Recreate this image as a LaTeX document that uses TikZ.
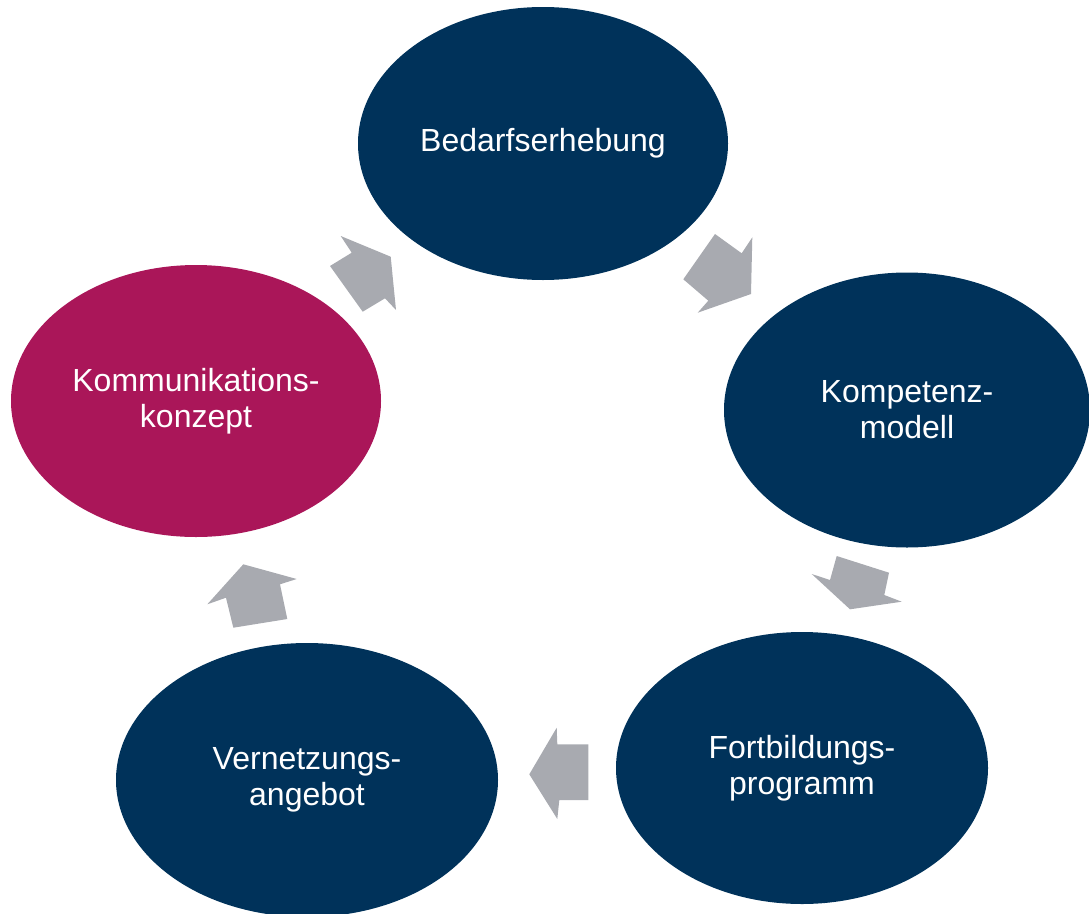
\documentclass[tikz,border=0pt]{standalone}
\usepackage{fontspec}
\setmainfont{Liberation Sans}
\usetikzlibrary{shapes.geometric}
\definecolor{navy}{RGB}{0,50,90}
\definecolor{berry}{RGB}{170,22,89}
\definecolor{arrowgray}{RGB}{168,170,176}
\begin{document}
\begin{tikzpicture}[x=1pt,y=-1pt,
		blob/.style={ellipse, fill=navy, text=white, inner sep=0pt, align=center,
			font=\fontsize{32}{36}\selectfont},
		blockarrow/.style={fill=arrowgray}]
			\useasboundingbox (0,0) rectangle (1089,913);
			\node[blob, minimum width=370pt, minimum height=273pt] (bedarf) at (543,143.5) {Bedarfserhebung};
			\node[blob, minimum width=366pt, minimum height=275pt] (kompetenz) at (907,410) {Kompetenz-\\modell};
			\node[blob, minimum width=372pt, minimum height=272pt] (fortbildung) at (802,768) {Fortbildungs-\\programm};
			\node[blob, minimum width=382pt, minimum height=274pt] (vernetzung) at (307,780) {Vernetzungs-\\angebot};
			\node[blob, fill=berry, minimum width=370pt, minimum height=272pt] (kommunikation) at (196,401) {Kommunikations-\\konzept};
		
			\fill[blockarrow] (340.7,236) -- (390.7,256.7) -- (396,310) -- (385,298.3) -- (362.7,311.7) -- (330,266) -- (351.7,252.7) -- cycle;
			\fill[blockarrow] (715,234) -- (741.7,253.3) -- (752.3,237.3) -- (751,294) -- (697.7,312.7) -- (708.3,300.7) -- (683.3,279.3) -- cycle;
			\fill[blockarrow] (836.7,556) -- (889,572.7) -- (884.3,595) -- (901.7,601.7) -- (850,609.3) -- (811.7,574) -- (830,580) -- cycle;
			\fill[blockarrow] (556.7,727.7) -- (557.3,744.3) -- (588.3,744.3) -- (588.3,800) -- (559.3,800) -- (557.3,819) -- (529.3,774.3) -- cycle;
			\fill[blockarrow] (243.3,564.3) -- (296.7,579) -- (280,584.3) -- (287.3,619) -- (233.3,627.7) -- (226,597.7) -- (207.3,604.3) -- cycle;
		\end{tikzpicture}
\end{document}
